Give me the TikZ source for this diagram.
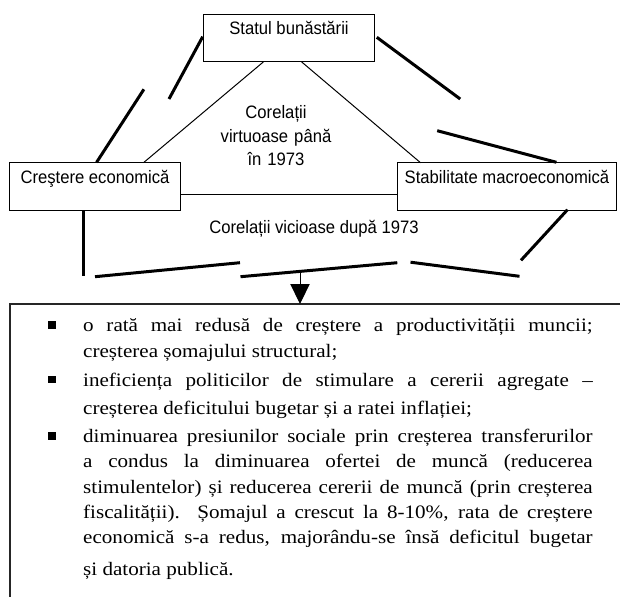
\documentclass[tikz,border=0pt]{standalone}
\usepackage{fontspec}
\usetikzlibrary{arrows.meta,calc}
\newfontfamily\labelfont[FakeStretch=0.925]{Liberation Sans}
\newfontfamily\bodyfont[FakeStretch=1.11]{Liberation Serif}
\newcommand{\lblfont}{\labelfont\fontsize{18}{23.3}\selectfont}
\newcommand{\txtfont}{\bodyfont\fontsize{19}{25.3}\selectfont}
\tikzset{
  boxn/.style={draw, line width=1.2pt, inner xsep=2pt, inner ysep=4pt, outer sep=0pt,
    text height=16.5pt, text depth=23pt, font=\lblfont, anchor=north west},
  thinl/.style={line width=1pt},
  thickl/.style={line width=3pt},
  listbox/.style={draw=black!85, line width=1.6pt, outer sep=0pt, anchor=north west,
    minimum width=660pt, minimum height=340pt},
  bul/.style={fill=black, inner sep=0pt, minimum size=7.5pt},
  para/.style={inner sep=0pt, anchor=base west, text width=509.5pt, align=justify, font=\txtfont},
  lbl/.style={inner sep=0pt, font=\lblfont}
}
\begin{document}
\begin{tikzpicture}[x=1pt,y=-1pt]
\useasboundingbox (0,0) rectangle (620,596);
% boxes
\node[boxn, minimum width=171pt] (top) at (203.5,14.3) {Statul bunăstării};
\node[boxn, minimum width=171pt] (left) at (9.5,162.7) {Creştere economică};
\node[boxn, minimum width=219pt] (right) at (397.5,162.7) {Stabilitate macroeconomică};
% thin connectors
\draw[thinl] ($(top.south west)+(60,0)$) -- ($(left.north west)+(134,0)$);
\draw[thinl] ($(top.south west)+(98,0)$) -- ($(right.north west)+(23,0)$);
\draw[thinl] ($(left.east)+(0,7.8)$) -- ($(right.west)+(0,7.8)$);
% labels
\node[lbl, text width=170pt, align=center, anchor=base] (virt) at (276,119)
  {Corelații\\virtuoase până\\în 1973};
\node[lbl, anchor=base] (vic) at (314,233.5) {Corelații vicioase după 1973};
% thick broken lines
\draw[thickl] (202.7,36.7) -- (169,99);
\draw[thickl] (143.9,89.3) -- (96.6,162.3);
\draw[thickl] (376.8,37.3) -- (460.2,99);
\draw[thickl] (437.2,130.7) -- (556.4,162.3);
\draw[thickl] (83.5,210) -- (83.5,276);
\draw[thickl] (95,276.7) -- (240,262.7);
\draw[thickl] (240.5,276.7) -- (397.3,262.7);
\draw[thickl] (410.5,262.2) -- (519.5,276.3);
\draw[thickl] (567.5,209.7) -- (521,260.3);
% list box
\node[listbox] (list) at (10,304) {};
\coordinate (am) at (300,271.4);
\draw[thinl, -{Triangle[width=19.3pt,length=20pt]}] (am) -- (am |- list.north);
% bullets
\node[bul] (b1) at (52,325) {};
\node[bul] (b2) at (52,379.5) {};
\node[bul] (b3) at (52,436) {};
% texts
\node[para] (p1) at (83,331.5) {\baselineskip=25.5pt o rată mai redusă de creștere a productivității muncii;\linebreak creșterea șomajului structural;\par};
\node[para] (p2) at (83,386) {\baselineskip=28pt ineficiența politicilor de stimulare a cererii agregate –\linebreak creșterea deficitului bugetar și a ratei inflației;\par};
\node[para] (p3) at (83,442.5) {\baselineskip=25.3pt diminuarea presiunilor sociale prin creșterea transferurilor\linebreak a condus la diminuarea ofertei de muncă (reducerea\linebreak stimulentelor) și reducerea cererii de muncă (prin creșterea\linebreak fiscalității). Șomajul a crescut la 8-10\%, rata de creștere\linebreak economică s-a redus, majorându-se însă deficitul bugetar{\parfillskip=0pt\par}\vspace{6pt}și datoria publică.\par};
\end{tikzpicture}
\end{document}
